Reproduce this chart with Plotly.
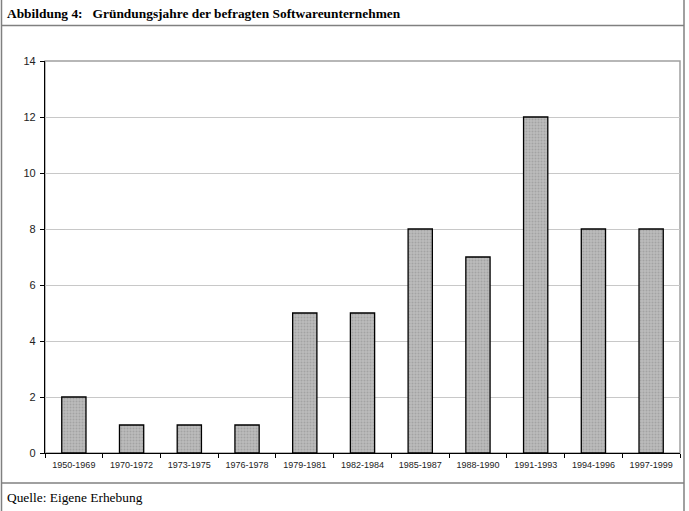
import plotly.graph_objects as go

categories = ["1950-1969", "1970-1972", "1973-1975", "1976-1978", "1979-1981",
              "1982-1984", "1985-1987", "1988-1990", "1991-1993", "1994-1996", "1997-1999"]
counts = [2, 1, 1, 1, 5, 5, 8, 7, 12, 8, 8]
y_ticks = [0, 2, 4, 6, 8, 10, 12, 14]

title_text = "<b>Abbildung 4:   Gründungsjahre der befragten Softwareunternehmen</b>"
source_text = "Quelle: Eigene Erhebung"

W, H = 689, 511
L, R, T, B = 45, 680, 61, 453

def px(x):
    return (x - L) / (R - L)

def py(y):
    return (B - y) / (B - T)

fig = go.Figure()
fig.add_trace(go.Bar(
    x=categories, y=counts, width=0.42,
    marker=dict(color="#ababab", line=dict(color="#000000", width=1.3),
                pattern=dict(shape=".", fgcolor="#8a8a8a", bgcolor="#bdbdbd", size=3, solidity=0.4)),
    hoverinfo="x+y",
))

shapes = [
    dict(type="rect", xref="paper", yref="paper", x0=0, x1=1, y0=0, y1=1,
         line=dict(color="#a0a0a0", width=1.5), layer="below"),
    dict(type="line", xref="paper", yref="paper", x0=px(1.5), x1=px(1.5), y0=py(511), y1=py(0),
         line=dict(color="#808080", width=1.5)),
    dict(type="line", xref="paper", yref="paper", x0=px(684), x1=px(684), y0=py(511), y1=py(0),
         line=dict(color="#808080", width=1.5)),
    dict(type="line", xref="paper", yref="paper", x0=px(1.5), x1=px(684), y0=py(25.5), y1=py(25.5),
         line=dict(color="#808080", width=1.5)),
    dict(type="line", xref="paper", yref="paper", x0=px(1.5), x1=px(684), y0=py(483), y1=py(483),
         line=dict(color="#808080", width=1.5)),
]

annotations = [
    dict(text=title_text, xref="paper", yref="paper", x=px(5), y=py(13), xanchor="left", yanchor="middle",
         showarrow=False, font=dict(family="Liberation Serif, Times New Roman, serif", size=13.4, color="#000")),
    dict(text=source_text, xref="paper", yref="paper", x=px(5), y=py(497), xanchor="left", yanchor="middle",
         showarrow=False, font=dict(family="Liberation Serif, Times New Roman, serif", size=13.4, color="#000")),
]

fig.update_layout(
    width=W, height=H,
    margin=dict(l=L, r=W - R, t=T, b=H - B, pad=0),
    paper_bgcolor="white", plot_bgcolor="white",
    showlegend=False, bargap=0.58,
    shapes=shapes, annotations=annotations,
    font=dict(family="Liberation Sans, Arial, sans-serif", color="#222"),
    xaxis=dict(type="category", tickson="boundaries", ticks="outside", ticklen=4, tickcolor="#000",
               showline=True, linecolor="#000", linewidth=1.3, showgrid=False,
               tickfont=dict(size=9), range=[-0.5, 10.5], ticklabelstandoff=3),
    yaxis=dict(range=[0, 14], tickvals=y_ticks, ticks="outside", ticklen=4, tickcolor="#000",
               showline=True, linecolor="#000", linewidth=1.3, showgrid=True, gridcolor="#c8c8c8",
               gridwidth=1, zeroline=False, tickfont=dict(size=11), ticklabelstandoff=2),
)

fig.write_html("out.html")
